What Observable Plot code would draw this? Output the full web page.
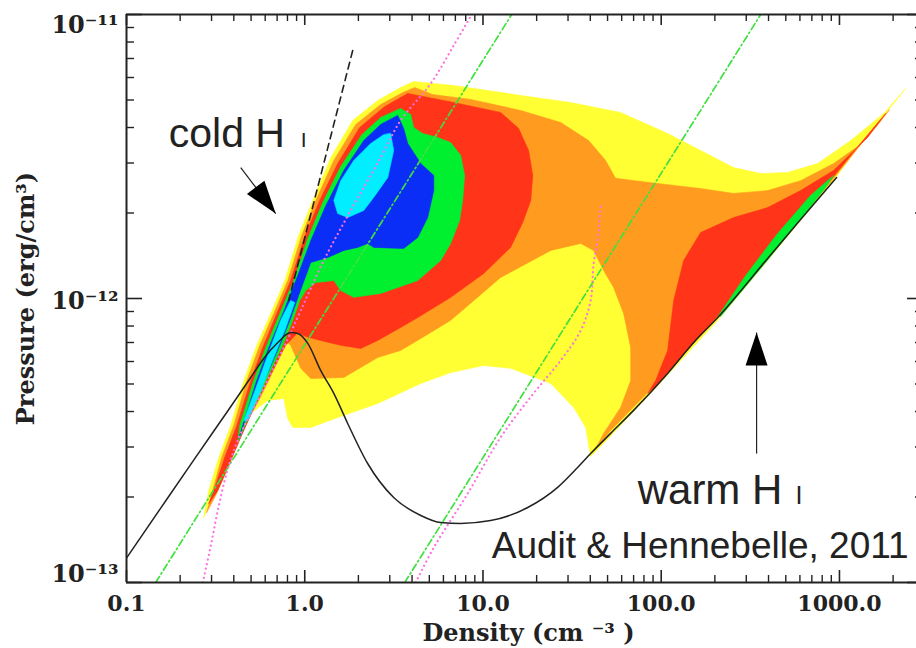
<!DOCTYPE html>
<html><head><meta charset="utf-8">
<script src="https://cdn.jsdelivr.net/npm/d3@7"></script>
<script src="https://cdn.jsdelivr.net/npm/@observablehq/plot@0.6"></script>
<style>body{margin:0;background:#fff}#chart{width:916px;height:648px;overflow:hidden}</style>
</head><body><div id="chart"></div>
<script>
// All contour / curve values are [log10 density (cm^-3), log10 pressure (erg/cm^3)]
const levelYellow = [[-0.567,-12.771],[-0.538,-12.676],[-0.482,-12.560],[-0.415,-12.447],[-0.342,-12.289],[-0.269,-12.165],[-0.191,-12.053],[-0.112,-11.937],[-0.034,-11.778],[0.045,-11.655],[0.146,-11.504],[0.269,-11.373],[0.409,-11.303],[0.538,-11.257],[0.611,-11.236],[0.836,-11.250],[1.212,-11.285],[1.492,-11.310],[1.772,-11.345],[2.036,-11.419],[2.221,-11.479],[2.406,-11.539],[2.558,-11.560],[2.709,-11.556],[2.877,-11.525],[3.063,-11.444],[3.248,-11.349],[3.371,-11.261],[3.304,-11.313],[3.203,-11.391],[3.091,-11.479],[2.967,-11.585],[2.782,-11.725],[2.597,-11.866],[2.317,-12.077],[1.941,-12.334],[1.660,-12.521],[1.604,-12.556],[1.576,-12.454],[1.509,-12.384],[1.380,-12.299],[1.155,-12.246],[1.004,-12.236],[0.819,-12.261],[0.651,-12.299],[0.409,-12.370],[0.185,-12.419],[0.034,-12.454],[-0.067,-12.454],[-0.095,-12.423],[-0.118,-12.352],[-0.208,-12.359],[-0.303,-12.405],[-0.376,-12.489],[-0.443,-12.588],[-0.510,-12.687]];
const levelOrange = [[-0.550,-12.753],[-0.516,-12.676],[-0.466,-12.560],[-0.398,-12.447],[-0.325,-12.289],[-0.252,-12.165],[-0.174,-12.053],[-0.095,-11.937],[-0.017,-11.778],[0.062,-11.655],[0.163,-11.514],[0.286,-11.387],[0.426,-11.317],[0.550,-11.275],[0.617,-11.257],[0.718,-11.282],[0.931,-11.299],[1.212,-11.338],[1.436,-11.380],[1.593,-11.444],[1.688,-11.514],[1.744,-11.577],[1.941,-11.592],[2.221,-11.613],[2.406,-11.630],[2.597,-11.620],[2.782,-11.585],[2.967,-11.525],[3.102,-11.465],[3.203,-11.398],[3.281,-11.335],[3.220,-11.377],[3.107,-11.468],[2.967,-11.577],[2.782,-11.718],[2.597,-11.859],[2.317,-12.067],[1.941,-12.320],[1.716,-12.465],[1.632,-12.528],[1.677,-12.475],[1.772,-12.384],[1.829,-12.289],[1.829,-12.173],[1.789,-12.053],[1.733,-11.961],[1.677,-11.901],[1.621,-11.831],[1.548,-11.806],[1.380,-11.831],[1.099,-11.926],[0.819,-12.077],[0.651,-12.141],[0.538,-12.183],[0.409,-12.208],[0.219,-12.278],[0.034,-12.282],[-0.022,-12.246],[-0.079,-12.165],[-0.107,-12.148],[-0.151,-12.218],[-0.202,-12.289],[-0.258,-12.359],[-0.314,-12.423],[-0.370,-12.500],[-0.432,-12.595],[-0.494,-12.687]];
const levelRedCold = [[-0.538,-12.722],[-0.499,-12.655],[-0.449,-12.560],[-0.381,-12.447],[-0.308,-12.299],[-0.236,-12.173],[-0.157,-12.053],[-0.079,-11.937],[0,-11.782],[0.084,-11.655],[0.185,-11.525],[0.308,-11.398],[0.449,-11.324],[0.578,-11.278],[0.836,-11.310],[1.099,-11.345],[1.200,-11.401],[1.256,-11.479],[1.279,-11.567],[1.268,-11.655],[1.223,-11.732],[1.155,-11.820],[1.004,-11.912],[0.819,-11.996],[0.634,-12.067],[0.538,-12.102],[0.409,-12.148],[0.314,-12.176],[0.202,-12.165],[0.090,-12.148],[0.006,-12.134],[-0.039,-12.120],[-0.107,-12.165],[-0.179,-12.254],[-0.236,-12.324],[-0.292,-12.394],[-0.359,-12.489],[-0.426,-12.588],[-0.488,-12.676]];
const levelRedWarm = [[3.259,-11.349],[3.158,-11.433],[2.967,-11.549],[2.782,-11.620],[2.597,-11.680],[2.406,-11.715],[2.221,-11.768],[2.126,-11.866],[2.070,-12.007],[2.036,-12.183],[1.969,-12.289],[1.924,-12.334],[1.969,-12.310],[2.317,-12.060],[2.597,-11.852],[2.782,-11.711],[2.967,-11.570],[3.118,-11.454]];
const levelGreenCold = [[0.538,-11.331],[0.595,-11.352],[0.611,-11.398],[0.662,-11.419],[0.746,-11.433],[0.819,-11.451],[0.875,-11.496],[0.897,-11.567],[0.886,-11.655],[0.869,-11.725],[0.819,-11.806],[0.763,-11.866],[0.634,-11.937],[0.426,-11.982],[0.275,-11.996],[0.202,-11.972],[0.163,-11.937],[0.062,-11.944],[0.006,-11.972],[-0.028,-12.007],[-0.067,-12.077],[-0.118,-12.158],[-0.185,-12.246],[-0.247,-12.331],[-0.308,-12.405],[-0.376,-12.507],[-0.365,-12.447],[-0.292,-12.299],[-0.219,-12.173],[-0.140,-12.053],[-0.062,-11.937],[0.017,-11.789],[0.101,-11.662],[0.202,-11.535],[0.320,-11.423],[0.426,-11.363]];
const levelGreenWarm = [[2.322,-12.060],[2.474,-11.919],[2.653,-11.771],[2.838,-11.637],[2.967,-11.567],[2.922,-11.609],[2.754,-11.743],[2.586,-11.873],[2.417,-12.000],[2.333,-12.063]];
const levelBlue = [[0.522,-11.356],[0.555,-11.401],[0.578,-11.454],[0.651,-11.525],[0.724,-11.567],[0.724,-11.620],[0.690,-11.715],[0.634,-11.785],[0.555,-11.824],[0.387,-11.820],[0.353,-11.806],[0.297,-11.820],[0.219,-11.831],[0.129,-11.856],[0.034,-11.873],[-0.034,-11.989],[-0.079,-12.070],[-0.135,-12.158],[-0.202,-12.254],[-0.264,-12.334],[-0.325,-12.412],[-0.370,-12.493],[-0.348,-12.447],[-0.275,-12.299],[-0.202,-12.173],[-0.123,-12.053],[-0.039,-11.919],[0.034,-11.796],[0.118,-11.673],[0.219,-11.549],[0.331,-11.444],[0.426,-11.387]];
const levelCyanCore = [[0.482,-11.419],[0.499,-11.479],[0.466,-11.574],[0.387,-11.644],[0.331,-11.690],[0.241,-11.715],[0.185,-11.701],[0.163,-11.655],[0.202,-11.585],[0.275,-11.514],[0.370,-11.454],[0.443,-11.423]];
const levelCyanBand = [[-0.342,-12.430],[-0.275,-12.317],[-0.202,-12.190],[-0.135,-12.077],[-0.079,-12.007],[-0.056,-12.014],[-0.112,-12.113],[-0.185,-12.225],[-0.258,-12.342],[-0.320,-12.430]];

const equilibriumCurve = [[-0.998,-12.912],[-0.808,-12.738],[-0.623,-12.569],[-0.432,-12.396],[-0.303,-12.278],[-0.230,-12.211],[-0.151,-12.155],[-0.079,-12.120],[-0.039,-12.123],[0.017,-12.158],[0.090,-12.254],[0.163,-12.334],[0.241,-12.440],[0.353,-12.581],[0.499,-12.701],[0.651,-12.764],[0.763,-12.789],[0.875,-12.792],[1.043,-12.782],[1.251,-12.736],[1.419,-12.665],[1.531,-12.595],[1.604,-12.546],[1.716,-12.475],[1.845,-12.394],[2.036,-12.264],[2.182,-12.155],[2.317,-12.067],[2.597,-11.859],[2.782,-11.722],[2.984,-11.574]];
const dashedLine = [[0.269,-11.127],[-0.090,-12.007]];
const pinkLeft = [[-0.572,-13.000],[-0.527,-12.870],[-0.482,-12.729],[-0.426,-12.588],[-0.359,-12.475],[-0.264,-12.359],[-0.191,-12.264],[-0.118,-12.173],[-0.022,-12.042],[0.107,-11.866],[0.258,-11.690],[0.426,-11.504],[0.538,-11.373],[0.707,-11.243],[0.836,-11.109],[0.937,-11.000]];
const pinkRight = [[0.623,-13.000],[0.724,-12.877],[0.914,-12.687],[1.099,-12.489],[1.284,-12.334],[1.436,-12.218],[1.548,-12.113],[1.604,-12.007],[1.621,-11.877],[1.643,-11.796],[1.660,-11.673]];
const greenIsoLeft = [[-0.836,-13],[1.161,-11]];
const greenIsoRight = [[0.561,-13],[2.558,-11]];

const xTicks = [0.1, 1, 10, 100, 1000];
const xTickLabels = ["0.1", "1.0", "10.0", "100.0", "1000.0"];
const yTicks = [1e-11, 1e-12, 1e-13];
const yTickLabels = ["10⁻¹¹", "10⁻¹²", "10⁻¹³"];

const annotations = [
  {text: "cold H", ln: -0.763, lp: -11.468, size: 41},
  {text: "I", ln: -0.022, lp: -11.468, size: 21},
  {text: "warm H", ln: 1.868, lp: -12.722, size: 42},
  {text: "I", ln: 2.754, lp: -12.722, size: 25},
  {text: "Audit & Hennebelle, 2011", ln: 1.049, lp: -12.915, size: 37}
];
const arrows = [
  {tail: [-0.359, -11.539], tip: [-0.163, -11.701], angle: 142.7},
  {tail: [2.535, -12.546], tip: [2.535, -12.120], angle: 0}
];

// ---- build ----
const rows = pts => pts.map(([a, b]) => ({n: 10 ** a, p: 10 ** b}));
const fillLevel = (pts, color) => Plot.line(rows(pts), {x: "n", y: "p", fill: color, stroke: color, strokeWidth: 0.6, curve: "linear-closed"});
const W = 916, H = 648, mL = 126, mT = 14, mB = 66;
const frameW = W - mL, frameH = H - mT - mB;
const minor = (decades) => decades.flatMap(d => [2,3,4,5,6,7,8,9].map(k => k * d));
const xMinor = minor([0.1, 1, 10, 100, 1000]).filter(v => v < 3000);
const yMinor = minor([1e-13, 1e-12]);
const ink = "#222";
const serif = "DejaVu Serif";
const headShape = {draw(ctx) { ctx.moveTo(0, 0); ctx.lineTo(-11, 33); ctx.lineTo(11, 33); ctx.closePath(); }};

const marks = [
  fillLevel(levelYellow, "#ffff33"),
  fillLevel(levelOrange, "#ff9b1e"),
  fillLevel(levelRedCold, "#ff3418"),
  fillLevel(levelRedWarm, "#ff3418"),
  fillLevel(levelGreenCold, "#00f030"),
  fillLevel(levelGreenWarm, "#00f030"),
  fillLevel(levelBlue, "#0a2ef5"),
  fillLevel(levelCyanCore, "#00eeff"),
  fillLevel(levelCyanBand, "#00eeff"),
  Plot.line(rows(greenIsoLeft), {x: "n", y: "p", stroke: "#3fe03f", strokeWidth: 1.7, strokeDasharray: "7,3,1.5,3", clip: true}),
  Plot.line(rows(greenIsoRight), {x: "n", y: "p", stroke: "#3fe03f", strokeWidth: 1.7, strokeDasharray: "7,3,1.5,3", clip: true}),
  Plot.line(rows(pinkLeft), {x: "n", y: "p", stroke: "#ff70e0", strokeWidth: 2.2, strokeDasharray: "0.1,4.6", strokeLinecap: "round", curve: "catmull-rom", clip: true}),
  Plot.line(rows(pinkRight), {x: "n", y: "p", stroke: "#ff70e0", strokeWidth: 2.2, strokeDasharray: "0.1,4.6", strokeLinecap: "round", curve: "catmull-rom", clip: true}),
  Plot.line(rows(dashedLine), {x: "n", y: "p", stroke: ink, strokeWidth: 1.6, strokeDasharray: "7,5"}),
  Plot.line(rows(equilibriumCurve), {x: "n", y: "p", stroke: ink, strokeWidth: 1.5, curve: "monotone-x"}),
  // frame (left, top, bottom)
  Plot.ruleX([0.1], {stroke: ink, strokeWidth: 2}),
  Plot.ruleY([1e-13, 1e-11], {stroke: ink, strokeWidth: 2}),
  // ticks
  Plot.ruleX(xTicks, {insetTop: frameH - 12, stroke: ink, strokeWidth: 1.6}),
  Plot.ruleX(xMinor, {insetTop: frameH - 7, stroke: ink, strokeWidth: 1.4}),
  Plot.ruleX(xTicks, {insetBottom: frameH - 11, stroke: ink, strokeWidth: 1.6}),
  Plot.ruleX(xMinor, {insetBottom: frameH - 7, stroke: ink, strokeWidth: 1.4}),
  Plot.ruleY(yTicks, {insetRight: frameW - 16, stroke: ink, strokeWidth: 1.6}),
  Plot.ruleY(yMinor, {insetRight: frameW - 8, stroke: ink, strokeWidth: 1.4}),
  Plot.ruleY(yTicks, {insetLeft: 781, stroke: ink, strokeWidth: 1.6}),
  Plot.ruleY(yMinor, {insetLeft: 789, stroke: ink, strokeWidth: 1.4}),
  // tick labels
  Plot.text(xTicks, {x: d => d, frameAnchor: "bottom", dy: 28.5, text: (d, i) => xTickLabels[i], fontFamily: serif, fontWeight: "bold", fontSize: 22, fill: ink}),
  ...[10.5, 3, -8].map((dy, i) => Plot.text([yTicks[i]], {y: d => d, frameAnchor: "left", dx: -8, dy, textAnchor: "end", text: () => yTickLabels[i], fontFamily: serif, fontWeight: "bold", fontSize: 24, fill: ink})),
  // axis titles
  Plot.text(["Pressure (erg/cm³)"], {frameAnchor: "left", dx: -100, rotate: -90, textAnchor: "middle", fontFamily: serif, fontWeight: "bold", fontSize: 24, fill: ink}),
  Plot.text(["Density (cm ⁻³ )"], {frameAnchor: "bottom", dx: 7, dy: 58, textAnchor: "middle", fontFamily: serif, fontWeight: "bold", fontSize: 24, fill: ink}),
  // annotations
  ...annotations.map(a => Plot.text([a], {x: d => 10 ** d.ln, y: d => 10 ** d.lp, text: "text", textAnchor: "start", lineAnchor: "bottom", fontFamily: "Liberation Sans", fontSize: a.size, fill: ink})),
  Plot.link(arrows, {x1: d => 10 ** d.tail[0], y1: d => 10 ** d.tail[1], x2: d => 10 ** d.tip[0], y2: d => 10 ** d.tip[1], stroke: ink, strokeWidth: 1.2}),
  ...arrows.map(a => Plot.dot([a], {x: d => 10 ** d.tip[0], y: d => 10 ** d.tip[1], symbol: headShape, r: 5, fill: "#000", stroke: "none", rotate: a.angle}))
];

const chart = Plot.plot({
  width: W, height: H,
  marginLeft: mL, marginRight: 0, marginTop: mT, marginBottom: mB,
  x: {type: "log", domain: [0.1, 3000], range: [126, 924], axis: null},
  y: {type: "log", domain: [1e-13, 1e-11], axis: null},
  style: {background: "#fff", overflow: "hidden"},
  marks
});
document.getElementById("chart").append(chart);
</script>
</body></html>
